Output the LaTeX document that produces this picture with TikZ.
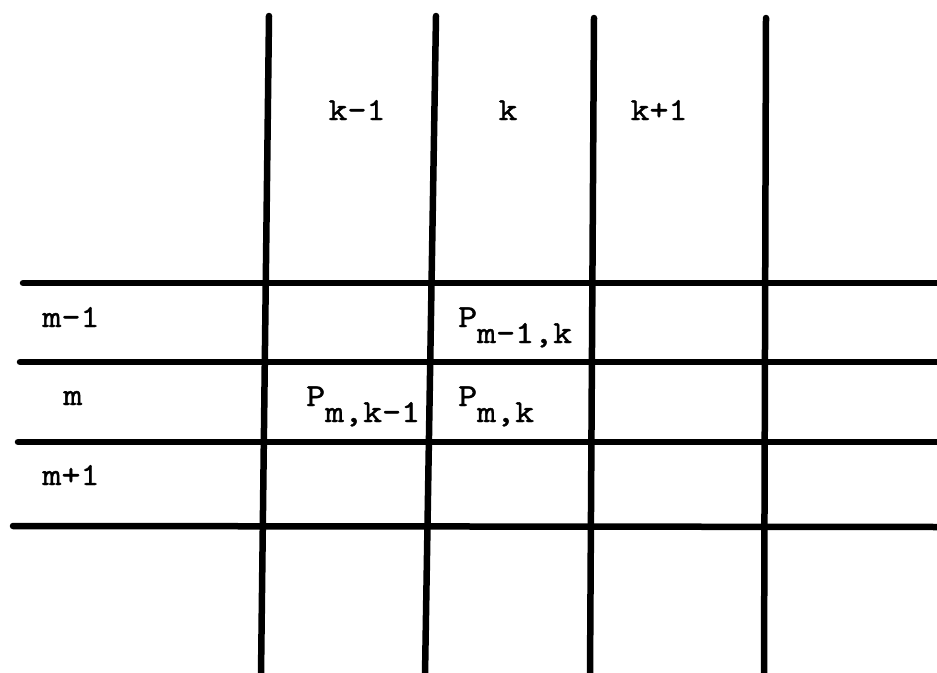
\documentclass[tikz,border=0pt]{standalone}
\usepackage{fontspec}
\newfontfamily\tw{lmmono10-regular.otf}[FakeStretch=1.13,FakeBold=1.3]
\begin{document}
\begin{tikzpicture}[x=1pt,y=-1pt,
  gridline/.style={line width=6.5pt,line cap=round},
  lbl/.style={inner sep=0pt,anchor=base,font=\tw\fontsize{32}{38}\selectfont},
  plbl/.style={inner sep=0pt,anchor=base west,font=\tw\fontsize{32}{38}\selectfont}]
\useasboundingbox (0,0) rectangle (937,672);
% vertical line ends
\coordinate (v1t) at (269,16);  \coordinate (v1b) at (261,675);
\coordinate (v2t) at (436,16);  \coordinate (v2b) at (425,675);
\coordinate (v3t) at (594,18);  \coordinate (v3b) at (590,675);
\coordinate (v4t) at (766,18);  \coordinate (v4b) at (764,675);
% horizontal line ends
\coordinate (h1l) at (23,283);  \coordinate (h1r) at (940,283);
\coordinate (h2l) at (20,362);  \coordinate (h2r) at (940,362);
\coordinate (h3l) at (18,442);  \coordinate (h3r) at (940,442);
\coordinate (h4l) at (13,526);  \coordinate (h4r) at (940,527);
\draw[gridline] (v1t) -- (v1b);
\draw[gridline] (v2t) -- (v2b);
\draw[gridline] (v3t) -- (v3b);
\draw[gridline] (v4t) -- (v4b);
\draw[gridline] (h1l) -- (h1r);
\draw[gridline] (h2l) -- (h2r);
\draw[gridline] (h3l) -- (h3r);
\draw[gridline] (h4l) -- (h4r);
% column labels
\node[lbl] (ckm) at (357,120) {k-1};
\node[lbl] (ck)  at (508,120) {k};
\node[lbl] (ckp) at (659,120) {k+1};
% row labels
\node[lbl] (rmm) at (71,327) {m-1};
\node[lbl] (rm)  at (73,405) {m};
\node[lbl] (rmp) at (71,485) {m+1};
% cell labels
\node[plbl] (pmmk) at (458,327) {P\raisebox{-16pt}{m-1,k}};
\node[plbl] (pmk)  at (458,406) {P\raisebox{-16pt}{m,k}};
\node[plbl] (pmkm) at (306,406) {P\raisebox{-16pt}{m,k-1}};
\end{tikzpicture}
\end{document}
